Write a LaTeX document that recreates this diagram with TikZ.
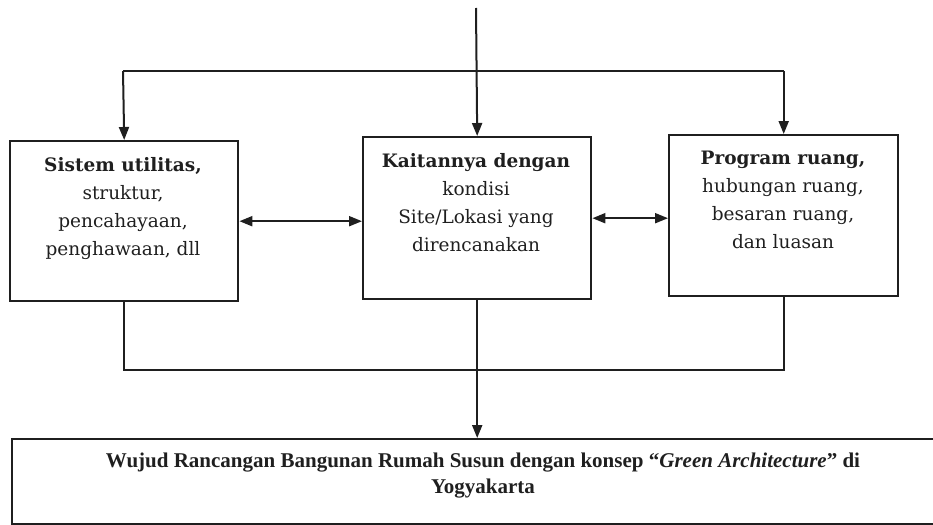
\documentclass[tikz,border=0pt]{standalone}
\usepackage{fontspec}
\setmainfont{DejaVu Serif}
\newfontfamily\timesfont{Liberation Serif}
\usetikzlibrary{arrows.meta}
\definecolor{ink}{gray}{0.12}
\tikzset{
  box/.style={draw=ink, line width=2.4pt, rectangle, inner sep=0pt, anchor=north west},
  conn/.style={draw=ink, line width=2pt},
  arr/.style={conn, -{Triangle[length=13pt,width=10pt]}},
  darr/.style={conn, {Triangle[length=13pt,width=10pt]}-{Triangle[length=13pt,width=10pt]}},
  txt/.style={anchor=north, align=center, inner sep=0pt, text=ink, font=\fontsize{18.5}{28}\selectfont}
}
\begin{document}
\begin{tikzpicture}[x=1pt,y=-1pt]
\useasboundingbox (0,0) rectangle (933,524);
\clip (0,0) rectangle (933,524);
\node[box, minimum width=228pt, minimum height=160pt] (L) at (9,140) {};
\node[box, minimum width=228pt, minimum height=162pt] (C) at (362,136) {};
\node[box, minimum width=229pt, minimum height=161pt] (R) at (668,134) {};
\node[box, minimum width=940pt, minimum height=85pt] (B) at (11,438) {};
\node[txt] (Lt) at (123,157) {\textbf{Sistem utilitas,}\\struktur,\\pencahayaan,\\penghawaan, dll};
\node[txt] (Ct) at (476,153) {\textbf{Kaitannya dengan}\\kondisi\\Site/Lokasi yang\\direncanakan};
\node[txt] (Rt) at (783,151) {\textbf{Program ruang,}\\hubungan ruang,\\besaran ruang,\\dan luasan};
\node[txt, font=\timesfont\bfseries\fontsize{21}{26}\selectfont] (Bt) at (483,453) {Wujud Rancangan Bangunan Rumah Susun dengan konsep “\textit{Green Architecture}” di\\Yogyakarta};
\coordinate (top) at (476,8);
\coordinate (hl) at (123,71);
\coordinate (hr) at (R.north |- hl);
\draw[arr] (top) -- (C.north);
\draw[conn, line width=2.8pt] (hl) -- (hr);
\draw[arr] (hl) -- (L.north);
\draw[arr] (hr) -- (R.north);
\draw[darr] (L.east) -- (C.west |- L.east);
\draw[darr] (C.east) -- (R.west |- C.east);
\draw[conn] (L.south) -- ++(0,68) -| (R.south);
\draw[arr] (C.south) -- (C.south |- B.north);
\end{tikzpicture}
\end{document}
